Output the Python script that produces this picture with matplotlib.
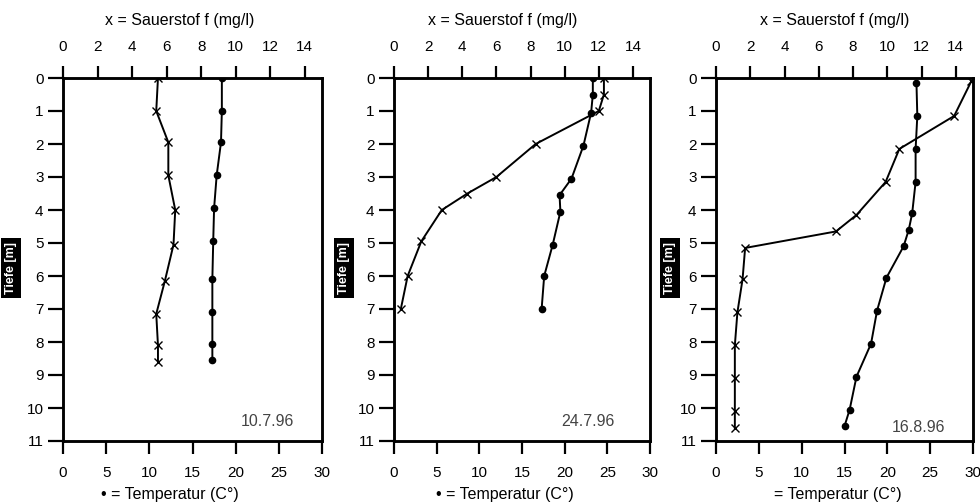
import matplotlib
matplotlib.use('Agg')
import matplotlib.pyplot as plt

plt.rcParams['font.family'] = ['Liberation Sans', 'DejaVu Sans']

dates = ['10.7.96', '24.7.96', '16.8.96']

# 10.7.96
o2_depth_a = [0, 1, 1.95, 2.95, 4.0, 5.05, 6.15, 7.15, 8.1, 8.6]
o2_a = [5.5, 5.4, 6.1, 6.1, 6.5, 6.4, 5.9, 5.4, 5.5, 5.5]
t_depth_a = [0, 1, 1.95, 2.95, 3.95, 4.95, 6.1, 7.1, 8.05, 8.55]
t_a = [18.4, 18.4, 18.3, 17.8, 17.5, 17.4, 17.3, 17.3, 17.3, 17.3]

# 24.7.96
o2_depth_b = [0, 0.5, 1.0, 2.0, 3.0, 3.5, 4.0, 4.95, 6.0, 7.0]
o2_b = [12.3, 12.3, 12.0, 8.3, 6.0, 4.3, 2.8, 1.6, 0.8, 0.4]
t_depth_b = [0, 0.5, 1.05, 2.05, 3.05, 3.55, 4.05, 5.05, 6.0, 7.0]
t_b = [23.3, 23.3, 23.1, 22.2, 20.8, 19.4, 19.5, 18.6, 17.6, 17.3]

# 16.8.96
o2_depth_c = [0.1, 1.15, 2.15, 3.15, 4.15, 4.65, 5.15, 6.1, 7.1, 8.1, 9.1, 10.1, 10.6]
o2_c = [14.9, 13.9, 10.7, 9.9, 8.2, 7.0, 1.7, 1.55, 1.25, 1.1, 1.1, 1.1, 1.1]
t_depth_c = [0.15, 1.15, 2.15, 3.15, 4.1, 4.6, 5.1, 6.05, 7.05, 8.05, 9.05, 10.05, 10.55]
t_c = [23.4, 23.5, 23.3, 23.3, 22.9, 22.5, 21.9, 19.9, 18.8, 18.1, 16.4, 15.6, 15.0]

o2_ticks = [0, 2, 4, 6, 8, 10, 12, 14]
t_ticks = [0, 5, 10, 15, 20, 25, 30]
depth_ticks = list(range(0, 12))

panels = [
    (o2_depth_a, o2_a, t_depth_a, t_a),
    (o2_depth_b, o2_b, t_depth_b, t_b),
    (o2_depth_c, o2_c, t_depth_c, t_c),
]

W, H = 980, 504
fig = plt.figure(figsize=(W / 100, H / 100), dpi=100)

# axes box edges in pixels: left, right
boxes = [(63, 322), (394, 650), (716, 973)]
top_px, bot_px = 78, 441
top_label_x = [180, 503, 835]
bot_label_x = [170, 505, 838]
bot_label_txt = ['\u2022 = Temperatur (C\u00b0)', '\u2022 = Temperatur (C\u00b0)', '= Temperatur (C\u00b0)']
date_pos = [(267, 422), (588, 422), (918, 427)]
ylab_x = [11, 344, 670]

for i, (od, ov, td, tv) in enumerate(panels):
    l, r = boxes[i]
    ax = fig.add_axes([l / W, 1 - bot_px / H, (r - l) / W, (bot_px - top_px) / H])
    ax.set_xlim(0, 30)
    ax.set_ylim(11, 0)
    ax.plot(tv, td, color='black', lw=1.4, marker='o', ms=4.5, zorder=3)
    ax.set_xticks(t_ticks)
    ax.set_yticks(depth_ticks)
    ax.tick_params(axis='x', direction='out', length=9, width=1.6, pad=9, labelsize=11)
    ax.tick_params(axis='y', direction='out', length=11, width=1.6, pad=3, labelsize=11)

    ax2 = ax.twiny()
    ax2.set_xlim(0, 15)
    ax2.plot(ov, od, color='black', lw=1.4, marker='x', ms=5.5, mew=1.0, zorder=3)
    ax2.set_xticks(o2_ticks)
    ax2.tick_params(axis='x', direction='out', length=9, width=1.6, pad=8, labelsize=11)

    for a in (ax, ax2):
        for s in a.spines.values():
            s.set_linewidth(1.8)

    fig.text(top_label_x[i] / W, 1 - 21 / H, 'x = Sauerstof f (mg/l)',
             ha='center', va='center', fontsize=11.5)
    fig.text(bot_label_x[i] / W, 1 - 494 / H, bot_label_txt[i],
             ha='center', va='center', fontsize=11.5)
    dx, dy = date_pos[i]
    fig.text(dx / W, 1 - dy / H, dates[i], ha='center', va='center',
             fontsize=11.5, color='#444444')
    fig.text(ylab_x[i] / W, 1 - 268 / H, 'Tiefe [m]', rotation=90,
             ha='center', va='center', fontsize=9, fontweight='bold', color='white',
             bbox=dict(facecolor='black', edgecolor='none', pad=3))

fig.savefig('out.png', dpi=100)
